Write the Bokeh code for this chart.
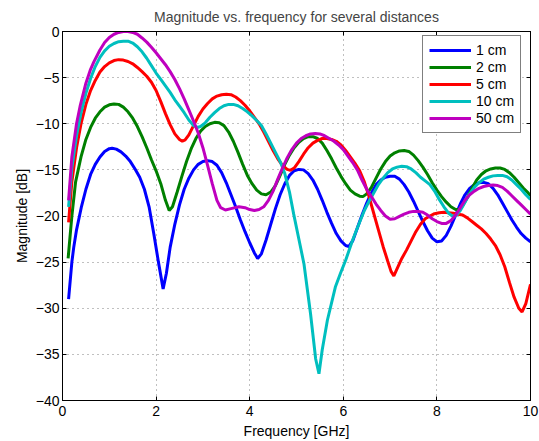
from bokeh.plotting import figure
from bokeh.models import (Range1d, LinearAxis, FixedTicker, CustomJSTickFormatter,
                          Legend, LegendItem)
from bokeh.embed import file_html
from bokeh.resources import INLINE

FONT = "Liberation Sans"

x_ticks = [0, 2, 4, 6, 8, 10]
y_ticks = [-40, -35, -30, -25, -20, -15, -10, -5, 0]

labels = ["1 cm", "2 cm", "5 cm", "10 cm", "50 cm"]
colors = ["#0000FF", "#008000", "#FF0000", "#00BFBF", "#BF00BF"]

# (frequency GHz, magnitude dB)
d_1cm = [(0.13,-29.0),(0.2,-25.0),(0.24,-23.4),(0.3,-21.5),(0.4,-19.1),(0.5,-17.1),(0.6,-15.5),
         (0.7,-14.4),(0.8,-13.6),(0.9,-13.0),(1.0,-12.7),(1.06,-12.65),(1.15,-12.75),(1.25,-13.05),
         (1.35,-13.5),(1.45,-14.1),(1.55,-14.9),(1.65,-15.8),(1.75,-17.1),(1.85,-19.0),(1.95,-21.9),
         (2.05,-25.0),(2.15,-27.9),(2.22,-26.2),(2.3,-23.4),(2.4,-20.9),(2.5,-18.8),(2.6,-17.1),
         (2.7,-15.9),(2.8,-15.0),(2.9,-14.4),(3.0,-14.1),(3.1,-14.0),(3.2,-14.1),(3.3,-14.5),
         (3.4,-15.3),(3.5,-16.4),(3.6,-17.7),(3.7,-19.0),(3.8,-20.4),(3.9,-21.7),(4.0,-22.9),
         (4.1,-24.0),(4.17,-24.6),(4.25,-24.1),(4.35,-22.6),(4.45,-20.9),(4.55,-19.2),(4.65,-17.7),
         (4.75,-16.5),(4.85,-15.6),(4.95,-15.1),(5.05,-14.95),(5.15,-15.0),(5.25,-15.4),(5.35,-16.1),
         (5.45,-17.1),(5.55,-18.3),(5.65,-19.6),(5.75,-20.8),(5.85,-21.9),(5.95,-22.7),(6.05,-23.2),
         (6.12,-23.3),(6.2,-22.7),(6.3,-21.3),(6.4,-19.9),(6.5,-18.6),(6.6,-17.5),(6.7,-16.6),
         (6.8,-16.1),(6.9,-15.8),(7.0,-15.7),(7.1,-15.7),(7.2,-16.0),(7.3,-16.6),(7.4,-17.4),
         (7.5,-18.4),(7.6,-19.5),(7.7,-20.6),(7.8,-21.6),(7.9,-22.4),(8.0,-22.8),(8.1,-22.7),
         (8.2,-22.1),(8.3,-21.1),(8.4,-19.9),(8.5,-18.7),(8.6,-17.7),(8.7,-17.0),(8.8,-16.6),
         (8.9,-16.4),(9.0,-16.35),(9.1,-16.5),(9.2,-17.0),(9.3,-17.7),(9.4,-18.6),(9.5,-19.5),
         (9.6,-20.4),(9.7,-21.2),(9.8,-21.9),(9.9,-22.4),(10.0,-22.8)]

d_2cm = [(0.12,-24.6),(0.2,-20.0),(0.28,-16.3),(0.4,-13.5),(0.5,-11.7),(0.6,-10.4),(0.7,-9.4),
         (0.8,-8.7),(0.9,-8.2),(1.0,-7.95),(1.1,-7.85),(1.2,-7.9),(1.3,-8.2),(1.4,-8.7),(1.5,-9.4),
         (1.6,-10.3),(1.7,-11.4),(1.8,-12.6),(1.9,-13.9),(2.0,-15.1),(2.1,-16.5),(2.2,-18.3),
         (2.28,-19.4),(2.35,-19.0),(2.45,-17.4),(2.55,-15.7),(2.65,-14.1),(2.75,-12.7),(2.85,-11.6),
         (2.95,-10.8),(3.05,-10.3),(3.15,-10.0),(3.25,-9.85),(3.35,-9.9),(3.45,-10.2),(3.55,-10.9),
         (3.65,-11.9),(3.75,-13.1),(3.85,-14.4),(3.95,-15.6),(4.05,-16.5),(4.15,-17.2),(4.25,-17.6),
         (4.35,-17.7),(4.45,-17.4),(4.55,-16.7),(4.65,-15.6),(4.75,-14.4),(4.85,-13.4),(4.95,-12.6),
         (5.05,-12.0),(5.15,-11.6),(5.25,-11.4),(5.35,-11.4),(5.45,-11.6),(5.55,-12.1),(5.65,-12.9),
         (5.75,-13.8),(5.85,-14.8),(5.95,-15.7),(6.05,-16.5),(6.15,-17.2),(6.25,-17.6),(6.35,-17.85),
         (6.42,-17.9),(6.5,-17.6),(6.6,-16.9),(6.7,-15.9),(6.8,-14.9),(6.9,-14.1),(7.0,-13.5),
         (7.1,-13.15),(7.2,-12.95),(7.3,-12.9),(7.4,-13.0),(7.5,-13.4),(7.6,-14.0),(7.7,-14.7),
         (7.8,-15.5),(7.9,-16.4),(8.0,-17.2),(8.1,-17.9),(8.2,-18.5),(8.3,-19.0),(8.4,-19.3),
         (8.47,-19.3),(8.55,-18.9),(8.65,-18.0),(8.75,-17.0),(8.85,-16.1),(8.95,-15.5),(9.05,-15.1),
         (9.15,-14.9),(9.25,-14.8),(9.35,-14.8),(9.45,-14.95),(9.55,-15.3),(9.65,-15.8),(9.75,-16.4),
         (9.85,-17.0),(9.95,-17.5),(10.0,-17.8)]

d_5cm = [(0.13,-20.7),(0.2,-16.3),(0.3,-12.6),(0.4,-9.9),(0.5,-7.9),(0.6,-6.4),(0.7,-5.3),
         (0.8,-4.4),(0.9,-3.8),(1.0,-3.4),(1.1,-3.15),(1.2,-3.05),(1.3,-3.1),(1.4,-3.25),(1.5,-3.5),
         (1.6,-3.9),(1.7,-4.35),(1.8,-4.85),(1.9,-5.5),(2.0,-6.4),(2.1,-7.6),(2.2,-8.9),(2.3,-10.1),
         (2.4,-11.1),(2.5,-11.7),(2.56,-11.9),(2.62,-11.75),(2.7,-11.2),(2.8,-10.2),(2.9,-9.2),
         (3.0,-8.4),(3.1,-7.8),(3.2,-7.3),(3.3,-7.0),(3.4,-6.85),(3.5,-6.8),(3.6,-6.85),(3.7,-7.1),
         (3.8,-7.5),(3.9,-8.0),(4.0,-8.6),(4.1,-9.3),(4.2,-10.0),(4.3,-10.9),(4.4,-11.9),(4.5,-12.9),
         (4.6,-13.8),(4.7,-14.5),(4.8,-14.95),(4.87,-15.05),(4.95,-14.8),(5.05,-14.1),(5.15,-13.3),
         (5.25,-12.6),(5.35,-12.1),(5.45,-11.8),(5.55,-11.6),(5.65,-11.6),(5.75,-11.7),(5.85,-11.9),
         (5.95,-12.3),(6.05,-12.9),(6.15,-13.6),(6.25,-14.3),(6.35,-15.1),(6.45,-16.3),(6.55,-17.9),
         (6.65,-19.7),(6.75,-21.5),(6.85,-23.3),(6.95,-24.9),(7.02,-26.0),(7.08,-26.5),(7.15,-25.7),
         (7.25,-24.6),(7.35,-23.7),(7.45,-22.7),(7.55,-21.7),(7.65,-20.9),(7.75,-20.3),(7.85,-20.0),
         (7.95,-19.75),(8.05,-19.65),(8.15,-19.6),(8.25,-19.65),(8.35,-19.7),(8.45,-19.8),
         (8.55,-19.9),(8.65,-20.2),(8.75,-20.6),(8.85,-21.0),(8.95,-21.4),(9.05,-21.9),(9.15,-22.5),
         (9.25,-23.2),(9.35,-24.2),(9.45,-25.5),(9.55,-27.2),(9.65,-28.8),(9.75,-30.0),(9.82,-30.4),
         (9.9,-29.5),(10.0,-27.4)]

d_10cm = [(0.13,-19.0),(0.2,-14.8),(0.3,-11.3),(0.4,-8.7),(0.5,-6.7),(0.6,-5.1),(0.7,-3.8),
          (0.8,-2.8),(0.9,-2.1),(1.0,-1.6),(1.1,-1.3),(1.2,-1.1),(1.3,-1.05),(1.4,-1.05),(1.5,-1.25),
          (1.6,-1.65),(1.7,-2.2),(1.8,-2.9),(1.9,-3.7),(2.0,-4.5),(2.1,-5.2),(2.2,-5.9),(2.3,-6.6),
          (2.4,-7.4),(2.5,-8.1),(2.6,-8.8),(2.7,-9.6),(2.8,-10.2),(2.88,-10.4),(2.95,-10.3),
          (3.05,-9.9),(3.15,-9.3),(3.25,-8.8),(3.35,-8.35),(3.45,-8.05),(3.55,-7.9),(3.65,-7.9),
          (3.75,-8.05),(3.85,-8.35),(3.95,-8.7),(4.05,-9.15),(4.15,-9.65),(4.25,-10.2),(4.35,-11.1),
          (4.45,-12.1),(4.55,-13.1),(4.66,-14.2),(4.75,-15.4),(4.85,-17.4),(4.94,-19.8),(5.05,-22.5),
          (5.16,-25.2),(5.3,-30.6),(5.41,-35.5),(5.48,-37.1),(5.55,-34.5),(5.66,-31.3),(5.83,-27.7),
          (5.94,-26.2),(6.05,-24.8),(6.2,-22.6),(6.3,-21.3),(6.37,-20.4),(6.45,-19.4),(6.55,-18.4),
          (6.65,-17.5),(6.75,-16.6),(6.85,-15.9),(6.95,-15.3),(7.05,-14.9),(7.15,-14.7),(7.25,-14.6),
          (7.35,-14.65),(7.45,-14.9),(7.55,-15.3),(7.65,-15.8),(7.75,-16.2),(7.85,-16.6),
          (7.95,-17.3),(8.05,-18.2),(8.15,-19.0),(8.25,-19.7),(8.33,-20.0),(8.4,-20.0),(8.5,-19.4),
          (8.6,-18.5),(8.7,-17.6),(8.8,-16.9),(8.9,-16.4),(9.0,-16.0),(9.1,-15.8),(9.2,-15.65),
          (9.3,-15.6),(9.4,-15.6),(9.5,-15.75),(9.6,-16.1),(9.7,-16.6),(9.8,-17.1),(9.9,-17.7),
          (10.0,-18.2)]

d_50cm = [(0.13,-18.3),(0.2,-13.6),(0.3,-10.0),(0.38,-8.0),(0.5,-5.6),(0.6,-4.1),(0.67,-3.3),
          (0.8,-2.0),(0.9,-1.2),(1.0,-0.65),(1.1,-0.3),(1.2,-0.1),(1.3,0.0),(1.4,0.0),(1.5,-0.1),
          (1.6,-0.3),(1.7,-0.7),(1.8,-1.15),(1.9,-1.7),(2.0,-2.3),(2.1,-2.95),(2.2,-3.6),
          (2.3,-4.35),(2.4,-5.2),(2.5,-6.2),(2.6,-7.3),(2.7,-8.5),(2.8,-9.7),(2.9,-11.0),(3.0,-12.6),
          (3.1,-14.5),(3.2,-16.5),(3.3,-18.3),(3.38,-19.1),(3.48,-19.35),(3.6,-19.2),(3.77,-19.0),
          (3.9,-19.1),(4.0,-19.3),(4.1,-19.4),(4.2,-19.3),(4.3,-19.0),(4.4,-18.3),(4.5,-17.3),
          (4.6,-16.0),(4.7,-14.8),(4.8,-13.7),(4.9,-12.8),(5.0,-12.1),(5.1,-11.6),(5.2,-11.3),
          (5.3,-11.1),(5.4,-11.05),(5.5,-11.1),(5.6,-11.3),(5.7,-11.6),(5.8,-11.9),(5.9,-12.3),
          (6.0,-12.8),(6.1,-13.5),(6.2,-14.2),(6.3,-15.0),(6.4,-16.1),(6.5,-17.1),(6.6,-17.9),
          (6.7,-18.7),(6.8,-19.4),(6.9,-20.0),(7.0,-20.35),(7.1,-20.3),(7.2,-20.05),(7.3,-19.8),
          (7.4,-19.6),(7.5,-19.5),(7.6,-19.5),(7.7,-19.6),(7.8,-19.9),(7.9,-20.3),(8.0,-20.6),
          (8.1,-20.8),(8.2,-20.8),(8.3,-20.5),(8.4,-19.9),(8.5,-19.1),(8.6,-18.3),(8.7,-17.7),
          (8.8,-17.3),(8.9,-17.0),(9.0,-16.8),(9.1,-16.7),(9.2,-16.65),(9.3,-16.7),(9.4,-16.9),
          (9.5,-17.3),(9.6,-17.8),(9.7,-18.3),(9.8,-18.8),(9.9,-19.3),(10.0,-19.8)]

series = [d_1cm, d_2cm, d_5cm, d_10cm, d_50cm]

p = figure(frame_width=468, frame_height=369,
           min_border_left=62, min_border_right=9, min_border_top=31, min_border_bottom=41,
           x_range=Range1d(0, 10), y_range=Range1d(-40, 0),
           output_backend="svg", toolbar_location=None,
           title="Magnitude vs. frequency for several distances")

p.background_fill_color = "white"
p.border_fill_color = "white"
p.outline_line_color = "black"
p.outline_line_width = 1

p.title.text_font = FONT
p.title.text_font_size = "14px"
p.title.text_font_style = "normal"
p.title.align = "center"
p.title.vertical_align = "middle"
p.title.standoff = 12

minus_fmt = CustomJSTickFormatter(code="return tick < 0 ? '\\u2212' + Math.abs(tick) : String(tick);")
blank_fmt = CustomJSTickFormatter(code="return '';")

xt = FixedTicker(ticks=x_ticks)
yt = FixedTicker(ticks=y_ticks)

def style_axis(ax, ticker, fmt):
    ax.ticker = ticker
    ax.formatter = fmt
    ax.major_tick_in = 4
    ax.major_tick_out = 0
    ax.minor_tick_line_color = None
    ax.axis_line_color = "black"
    ax.major_tick_line_color = "black"
    ax.major_label_text_font = FONT
    ax.major_label_text_font_size = "14px"
    ax.major_label_text_color = "black"
    ax.axis_label_text_font = FONT
    ax.axis_label_text_font_size = "14px"
    ax.axis_label_text_font_style = "normal"
    ax.axis_label_text_color = "black"

xa = p.xaxis[0]
ya = p.yaxis[0]
style_axis(xa, xt, minus_fmt)
style_axis(ya, yt, minus_fmt)
xa.axis_label = "Frequency [GHz]"
ya.axis_label = "Magnitude [dB]"
xa.major_label_standoff = 5
xa.axis_label_standoff = 4
ya.major_label_standoff = 3
ya.axis_label_standoff = 3

top = LinearAxis()
right = LinearAxis()
style_axis(top, xt, blank_fmt)
style_axis(right, yt, blank_fmt)
for ax in (top, right):
    ax.major_label_standoff = 0
    ax.major_label_text_font_size = "0px"
p.add_layout(top, "above")
p.add_layout(right, "right")

for g in (p.xgrid[0], p.ygrid[0]):
    g.grid_line_color = "#808080"
    g.grid_line_dash = "1 4"
    g.grid_line_width = 1
p.xgrid[0].ticker = xt
p.ygrid[0].ticker = yt

items = []
for lab, col, data in zip(labels, colors, series):
    fx = [a for a, b in data]
    fy = [b for a, b in data]
    r = p.line(fx, fy, line_color=col, line_width=3)
    items.append(LegendItem(label=lab, renderers=[r]))

legend = Legend(items=items, location=(360, 267))
legend.label_text_font = FONT
legend.label_text_font_size = "14px"
legend.label_text_color = "black"
legend.glyph_width = 42
legend.glyph_height = 16
legend.label_height = 16
legend.label_standoff = 5
legend.spacing = 1
legend.padding = 6
legend.margin = 0
legend.border_line_color = "black"
legend.border_line_width = 1
legend.background_fill_color = "white"
legend.background_fill_alpha = 1
p.add_layout(legend, "center")

open("out.html", "w").write(file_html(p, INLINE))
